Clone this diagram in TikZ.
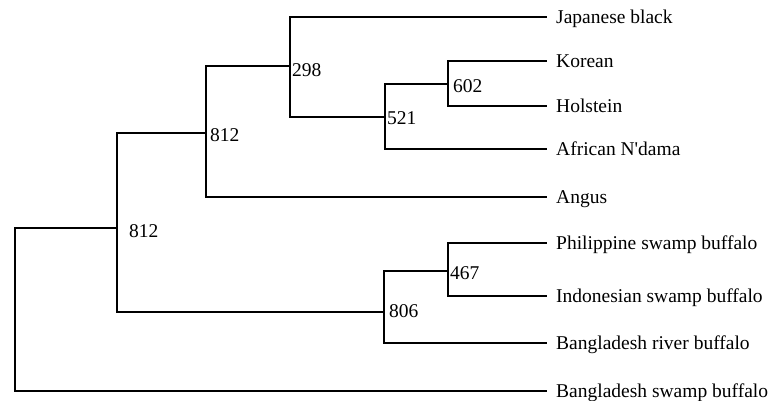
\documentclass[tikz,border=0pt]{standalone}
\usepackage{fontspec}
\setmainfont{Liberation Serif}
\usetikzlibrary{positioning}

\begin{document}
\begin{tikzpicture}[x=1pt,y=-1pt,
    branch/.style={line width=1.2pt,line cap=rect},
    taxon/.style={anchor=west,inner sep=0pt,text height=13pt,text depth=0pt,
                  font=\fontsize{19.5}{22}\selectfont},
    boot/.style={anchor=west,inner sep=0pt,font=\fontsize{19.5}{22}\selectfont}]
  \useasboundingbox (0,0) rectangle (779,401);

  % taxa
  \node[taxon] (jb)  at (556,17)  {Japanese black};
  \node[taxon] (kor) at (556,61)  {Korean};
  \node[taxon] (hol) at (556,106) {Holstein};
  \node[taxon] (afn) at (556,149) {African N\textquotesingle dama};
  \node[taxon] (ang) at (556,197) {Angus};
  \node[taxon] (psb) at (556,243) {Philippine swamp buffalo};
  \node[taxon] (isb) at (556,296) {Indonesian swamp buffalo};
  \node[taxon] (brb) at (556,343) {Bangladesh river buffalo};
  \node[taxon] (bsb) at (556,391) {Bangladesh swamp buffalo};

  % branch tips
  \foreach \t in {jb,kor,hol,afn,ang,psb,isb,brb,bsb}
    \coordinate (\t-tip) at ([xshift=-10pt]\t.west);

  % internal nodes
  \coordinate (n602)  at (448,84);
  \coordinate (n521)  at (385,117);
  \coordinate (n298)  at (290,66);
  \coordinate (n812a) at (206,133);
  \coordinate (n467)  at (448,271);
  \coordinate (n806)  at (384,312);
  \coordinate (n812b) at (117,228);
  \coordinate (root)  at (15,300);

  \draw[branch] (kor-tip) -| (n602) |- (hol-tip);
  \draw[branch] (n602) -| (n521) |- (afn-tip);
  \draw[branch] (jb-tip) -| (n298) |- (n521);
  \draw[branch] (n298) -| (n812a) |- (ang-tip);
  \draw[branch] (psb-tip) -| (n467) |- (isb-tip);
  \draw[branch] (n467) -| (n806) |- (brb-tip);
  \draw[branch] (n812a) -| (n812b) |- (n806);
  \draw[branch] (n812b) -| (root) |- (bsb-tip);

  % bootstrap values
  \node[boot,right=5pt of n602,yshift=-2pt]   {602};
  \node[boot,right=2pt of n521,yshift=-1pt]   {521};
  \node[boot,right=2pt of n298,yshift=-4pt]   {298};
  \node[boot,right=4pt of n812a,yshift=-2pt]  {812};
  \node[boot,right=2pt of n467,yshift=-2pt]   {467};
  \node[boot,right=5pt of n806,yshift=1pt]    {806};
  \node[boot,right=12pt of n812b,yshift=-3pt] {812};
\end{tikzpicture}
\end{document}
